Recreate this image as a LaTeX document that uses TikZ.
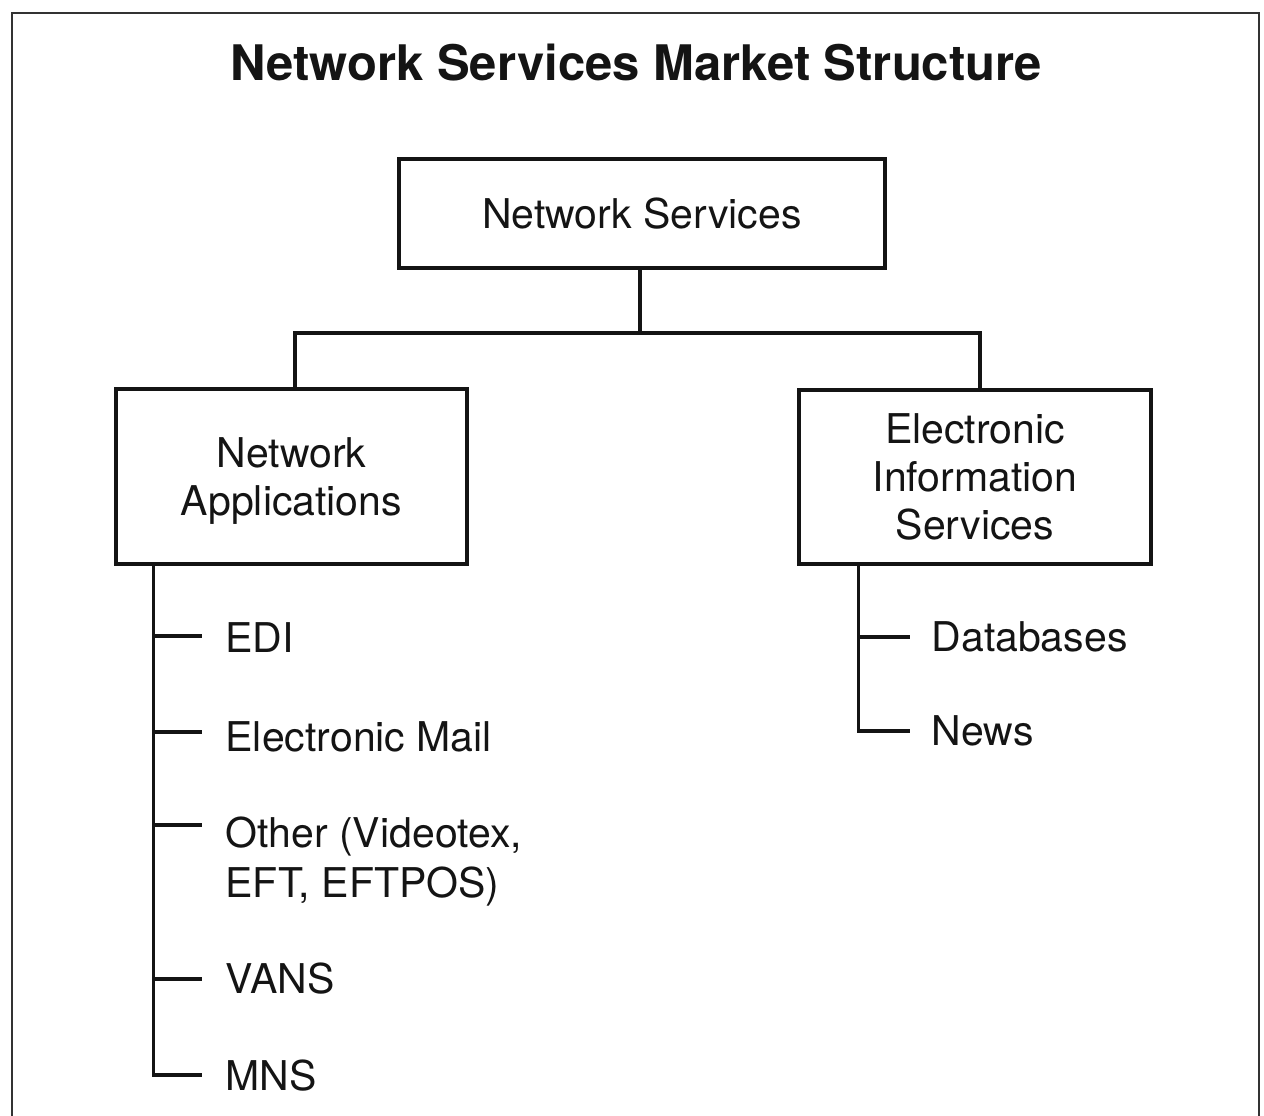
\documentclass[tikz,border=0pt]{standalone}
\usepackage{fontspec}
\setmainfont{TeX Gyre Heros}
\begin{document}
\begin{tikzpicture}[x=1pt,y=-1pt,
  line width=3.2pt, line cap=rect,
  ink/.style={draw=black!92},
  box/.style={ink, rectangle, inner sep=0pt, align=center, text depth=0pt,
    font=\fontsize{41}{48}\selectfont, text=black!92},
  item/.style={anchor=base west, inner sep=0pt, align=left,
    font=\fontsize{41}{50}\selectfont, text=black!92},
  heading/.style={anchor=base, inner sep=0pt,
    font=\fontsize{49}{58}\selectfont\bfseries, text=black!92}]

\useasboundingbox[fill=white] (0,0) rectangle (1264,1116);

% open frame around the chart
\draw[black!80, line width=2.2pt, line cap=butt]
  (12,1130) -- (12,13) -- (1259,13) -- (1259,1130);

\node[heading] (title) at (636,81) {Network Services Market Structure};

% boxes
\node[box, minimum width=486, minimum height=109] (ns) at (642,213.5) {Network Services};
\node[box, minimum width=351, minimum height=175] (na) at (291.5,476.5) {Network\\Applications};
\node[box, minimum width=352, minimum height=174] (eis) at (975,477) {Electronic\\Information\\Services};

% tree links between the boxes
\coordinate (j) at (640,333);
\draw[ink] (ns.south -| j) -- (j);
\draw[ink] ([xshift=3.5]na.north) |- (j) -| ([xshift=5]eis.north);

% left list (a multi-line node sits on its last baseline)
\node[item] (edi)  at (224,652) {EDI};
\node[item] (mail) at (224,751) {Electronic Mail};
\node[item] (oth)  at (224,897) {Other (Videotex,\\EFT, EFTPOS)};
\node[item] (vans) at (224,993) {VANS};
\node[item] (mns)  at (224,1090) {MNS};

\coordinate (tedi)  at (202,636);
\coordinate (tmail) at (202,732);
\coordinate (toth)  at (202,825);
\coordinate (tvans) at (202,979);
\coordinate (tmns)  at (202,1075);
\coordinate (ltrunk) at ([xshift=39]na.south west);

\draw[ink, line cap=butt] (ltrunk) |- (tmns);
\foreach \t in {tedi,tmail,toth,tvans}
  \draw[ink, line cap=butt] (ltrunk |- \t) -- (\t);

% right list
\node[item] (db)   at (930,651) {Databases};
\node[item] (news) at (930,745) {News};

\coordinate (tdb)   at (910,637);
\coordinate (tnews) at (910,731);
\coordinate (rtrunk) at ([xshift=61]eis.south west);

\draw[ink, line cap=butt] (rtrunk) |- (tnews);
\draw[ink, line cap=butt] (rtrunk |- tdb) -- (tdb);
\end{tikzpicture}
\end{document}
